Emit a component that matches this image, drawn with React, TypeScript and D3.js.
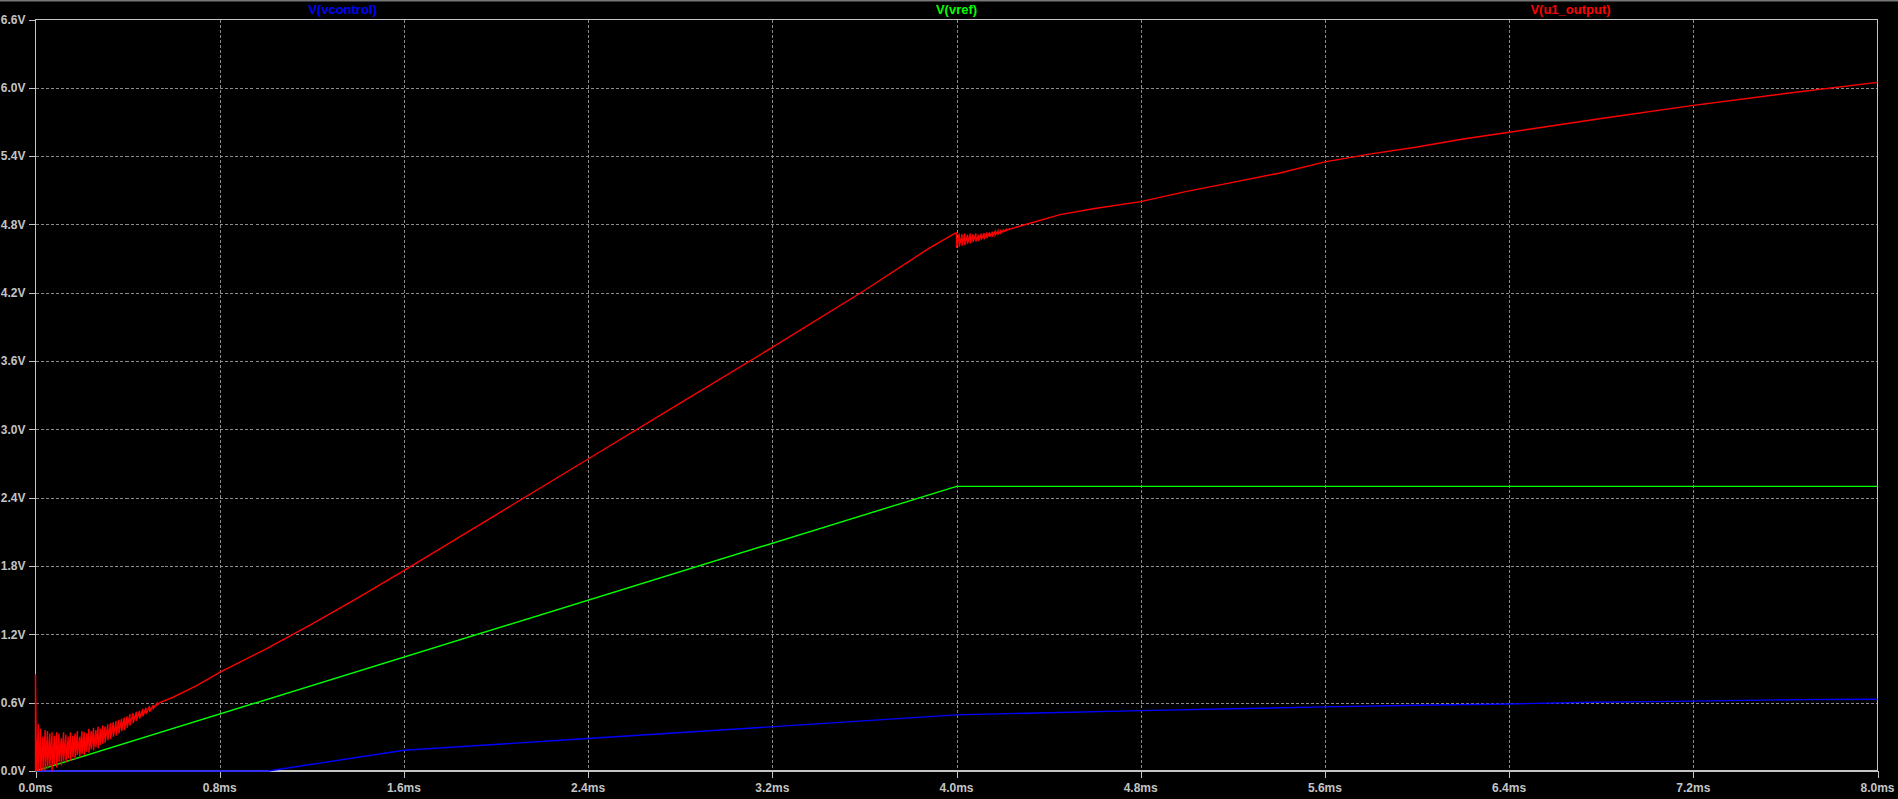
import React from 'react';
import * as d3 from 'd3';

const W = 1898;
const H = 799;
const M = { left: 35.5, right: 1877.5, top: 19.5, bottom: 771 };

// axis ticks
const X_TICKS = [0, 0.8, 1.6, 2.4, 3.2, 4.0, 4.8, 5.6, 6.4, 7.2, 8.0];
const Y_TICKS = [0, 0.6, 1.2, 1.8, 2.4, 3.0, 3.6, 4.2, 4.8, 5.4, 6.0, 6.6];

const SERIES_NAMES = ['V(vcontrol)', 'V(vref)', 'V(u1_output)'];
const SERIES_COLORS = ['#0000ff', '#00ff00', '#ff0000'];

// V(vref) : time in ms, volts
const VREF_T = [0, 4.0, 8.0];
const VREF_V = [0, 2.5, 2.5];

// V(vcontrol)
const VCTRL_T = [0, 1.01, 1.6, 2.28, 4.0, 4.4, 4.8, 5.2, 5.6, 6.0, 6.4, 6.76, 7.03, 7.34, 7.67, 8.0];
const VCTRL_V = [0, 0, 0.182, 0.27, 0.493, 0.512, 0.53, 0.547, 0.563, 0.577, 0.589, 0.604, 0.609, 0.618, 0.627, 0.63];

// V(u1_output): start spike
const OUT_SPIKE_T = [0, 0, 0.004];
const OUT_SPIKE_V = [0, 0.85, 0];

// V(u1_output): start-up ringing, each sample is a vertical bar hi -> lo
const RING1_T = [0.012, 0.022, 0.032, 0.042, 0.052, 0.062, 0.072, 0.082, 0.092, 0.102, 0.112, 0.122, 0.132, 0.142, 0.152, 0.162, 0.172, 0.182, 0.192, 0.202, 0.212, 0.222, 0.232, 0.242, 0.252, 0.262, 0.272, 0.282, 0.292, 0.302, 0.314, 0.326, 0.338, 0.35, 0.362, 0.374, 0.386, 0.398, 0.41, 0.424, 0.438, 0.452, 0.466, 0.48, 0.496, 0.512, 0.528];
const RING1_HI = [0.41, 0.37, 0.3, 0.36, 0.35, 0.33, 0.34, 0.31, 0.34, 0.33, 0.29, 0.34, 0.32, 0.3, 0.34, 0.31, 0.33, 0.35, 0.3, 0.35, 0.34, 0.33, 0.37, 0.35, 0.38, 0.36, 0.39, 0.37, 0.4, 0.39, 0.41, 0.42, 0.43, 0.44, 0.45, 0.46, 0.47, 0.48, 0.5, 0.51, 0.52, 0.53, 0.545, 0.555, 0.57, 0.58, 0.595];
const RING1_LO = [0, 0, 0.01, 0, 0.02, 0.04, 0, 0.06, 0.03, 0.08, 0.05, 0.09, 0.07, 0.11, 0.09, 0.12, 0.1, 0.14, 0.12, 0.15, 0.14, 0.17, 0.16, 0.19, 0.18, 0.21, 0.2, 0.23, 0.24, 0.25, 0.27, 0.28, 0.3, 0.31, 0.33, 0.35, 0.36, 0.38, 0.4, 0.42, 0.44, 0.46, 0.48, 0.5, 0.52, 0.55, 0.58];

// V(u1_output): ramp up to 4ms
const OUT_RAMP_T = [0.54, 0.6, 0.7, 0.8, 1.0, 1.2, 1.4, 1.6, 2.0, 2.4, 2.8, 3.2, 3.6, 3.88, 3.996];
const OUT_RAMP_V = [0.6, 0.65, 0.75, 0.867, 1.07, 1.29, 1.52, 1.76, 2.25, 2.74, 3.23, 3.72, 4.22, 4.59, 4.725];

// V(u1_output): ringing at 4ms
const RING2_T = [4.0, 4.012, 4.024, 4.036, 4.048, 4.06, 4.072, 4.084, 4.096, 4.108, 4.12, 4.132, 4.144, 4.156, 4.168, 4.18, 4.192, 4.204, 4.216, 4.228];
const RING2_HI = [4.725, 4.72, 4.715, 4.72, 4.71, 4.72, 4.715, 4.72, 4.71, 4.72, 4.725, 4.73, 4.73, 4.735, 4.74, 4.745, 4.745, 4.75, 4.755, 4.76];
const RING2_LO = [4.595, 4.605, 4.615, 4.62, 4.63, 4.635, 4.645, 4.65, 4.655, 4.665, 4.67, 4.68, 4.69, 4.7, 4.705, 4.715, 4.725, 4.735, 4.745, 4.755];

// V(u1_output): after 4ms
const OUT_TAIL_T = [4.238, 4.3, 4.45, 4.6, 4.8, 5.0, 5.2, 5.4, 5.6, 5.8, 6.0, 6.2, 6.4, 6.8, 7.2, 7.6, 8.0];
const OUT_TAIL_V = [4.763, 4.8, 4.886, 4.94, 5.0, 5.09, 5.17, 5.25, 5.35, 5.42, 5.48, 5.55, 5.61, 5.73, 5.846, 5.95, 6.048];

type P = [number, number];

const zipPts = (t: number[], v: number[]): P[] => t.map((d, i) => [d, v[i]] as P);
const barPts = (t: number[], hi: number[], lo: number[]): P[] => {
  const out: P[] = [];
  t.forEach((d, i) => {
    out.push([d, hi[i]]);
    out.push([d, lo[i]]);
  });
  return out;
};

const outputPts: P[] = [
  ...zipPts(OUT_SPIKE_T, OUT_SPIKE_V),
  ...barPts(RING1_T, RING1_HI, RING1_LO),
  ...zipPts(OUT_RAMP_T, OUT_RAMP_V),
  ...barPts(RING2_T, RING2_HI, RING2_LO),
  ...zipPts(OUT_TAIL_T, OUT_TAIL_V),
];

const seriesPts: P[][] = [zipPts(VCTRL_T, VCTRL_V), zipPts(VREF_T, VREF_V), outputPts];

export default function App() {
  const x = d3.scaleLinear().domain([0, 8]).range([M.left, M.right]);
  const y = d3.scaleLinear().domain([0, 6.6]).range([M.bottom, M.top]);
  const line = d3.line<P>().x(d => x(d[0])).y(d => y(d[1]));
  const fmt = d3.format('.1f');

  const gridColor = '#8a8a8a';
  const axisColor = '#c4c4c4';
  const labelFont = '"Liberation Sans", Arial, sans-serif';

  return (
    <svg
      width={W}
      height={H}
      style={{ position: 'fixed', left: 0, top: 0, background: '#000' }}
    >
      <rect x={0} y={0} width={W} height={H} fill="#000" />
      <rect x={0} y={0} width={W} height={1.5} fill="#777" />

      {/* grid */}
      <g stroke={gridColor} strokeWidth={1} strokeDasharray="3,2" shapeRendering="crispEdges">
        {X_TICKS.slice(1, -1).map(t => (
          <line key={'gx' + t} x1={Math.round(x(t)) + 0.5} x2={Math.round(x(t)) + 0.5} y1={M.top} y2={M.bottom} />
        ))}
        {Y_TICKS.slice(1, -1).map(t => (
          <line key={'gy' + t} x1={M.left} x2={M.right} y1={Math.round(y(t)) + 0.5} y2={Math.round(y(t)) + 0.5} />
        ))}
      </g>

      {/* frame and ticks */}
      <g stroke={axisColor} strokeWidth={1.2} fill="none" shapeRendering="crispEdges">
        <rect x={M.left} y={M.top} width={M.right - M.left} height={M.bottom - M.top} />
        {X_TICKS.map(t => (
          <line key={'tx' + t} x1={Math.round(x(t)) + 0.5} x2={Math.round(x(t)) + 0.5} y1={M.bottom} y2={M.bottom + 7} />
        ))}
        {Y_TICKS.map(t => (
          <line key={'ty' + t} x1={M.left - 7} x2={M.left} y1={Math.round(y(t)) + 0.5} y2={Math.round(y(t)) + 0.5} />
        ))}
      </g>

      {/* tick labels */}
      <g fill={axisColor} fontFamily={labelFont} fontWeight="bold" fontSize={12}>
        {X_TICKS.map(t => (
          <text key={'lx' + t} x={x(t)} y={792} textAnchor="middle">
            {fmt(t) + 'ms'}
          </text>
        ))}
        {Y_TICKS.map(t => (
          <text key={'ly' + t} x={25.5} y={y(t) + 4.3} textAnchor="end">
            {fmt(t) + 'V'}
          </text>
        ))}
      </g>

      {/* traces */}
      <g fill="none" strokeWidth={1.4} strokeLinejoin="miter">
        {seriesPts.map((pts, i) => (
          <path key={SERIES_NAMES[i]} d={line(pts) || ''} stroke={SERIES_COLORS[i]} />
        ))}
      </g>

      {/* legend */}
      <g fontFamily={labelFont} fontWeight="bold" fontSize={13} textAnchor="middle">
        {SERIES_NAMES.map((n, i) => (
          <text key={n} x={x((8 * (2 * i + 1)) / 6)} y={14} fill={SERIES_COLORS[i]}>
            {n}
          </text>
        ))}
      </g>
    </svg>
  );
}
